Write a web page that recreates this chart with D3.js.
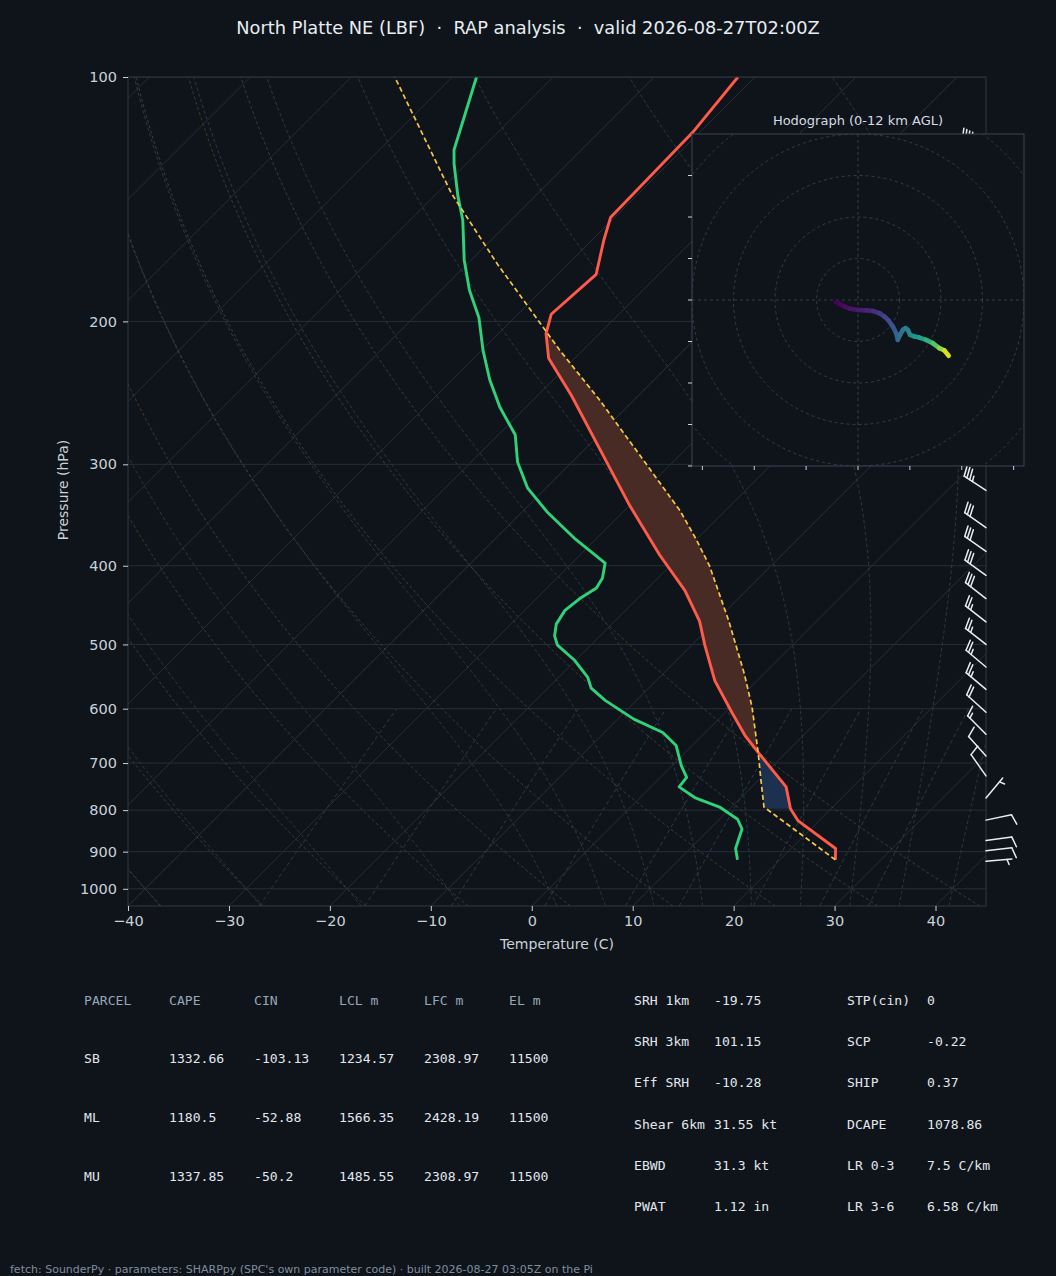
<!DOCTYPE html>
<html>
<head>
<meta charset="utf-8">
<script src="https://cdn.jsdelivr.net/npm/d3@7"></script>
<style>
  body { margin: 0; background: #0f141a; }
  svg { display: block; }
</style>
</head>
<body>
<svg id="chart" width="1056" height="1276"></svg>
<script>
// ---- sounding data ----
const tempP = [921, 892, 824, 797, 749, 679, 647, 607, 554, 501, 468, 429, 388, 337, 288, 247, 222, 207, 196, 175, 159, 149, 117, 100];
const tempT = [25.5, 24.4, 17.9, 16.0, 13.4, 7.2, 4.2, 0.7, -4.2, -8.7, -11.6, -16.1, -22.1, -30.0, -38.4, -46.6, -52.6, -55.3, -56.7, -56.2, -58.8, -60.4, -60.7, -61.7];

const dewP = [921, 892, 844, 821, 793, 772, 749, 729, 705, 666, 642, 618, 586, 566, 549, 523, 501, 488, 472, 454, 439, 426, 414, 397, 370, 344, 321, 298, 276, 255, 236, 217, 198, 183, 168, 150, 140, 128, 123, 100];
const dewT = [15.8, 14.5, 13.2, 11.8, 8.8, 5.4, 2.8, 2.6, 0.9, -1.6, -4.2, -8.4, -13.1, -15.7, -17.1, -20.1, -23.3, -24.5, -25.5, -26.0, -25.7, -25.1, -25.5, -26.7, -32.2, -37.4, -41.8, -45.4, -48.3, -52.6, -56.3, -59.9, -63.5, -67.2, -70.7, -74.8, -77.7, -81.2, -82.6, -87.6];

const parcelP = [921, 793, 736, 679, 597, 544, 468, 400, 370, 342, 297, 250, 217, 170, 139, 100];
const parcelT = [25.5, 13.2, 10.3, 7.2, 2.1, -1.9, -8.7, -16.1, -20.2, -24.5, -33.0, -43.4, -52.3, -67.0, -78.6, -95.7];

const lclP = 797, lfcP = 679, elP = 208;

// wind barbs: pressure (hPa), direction (deg), speed (kt)
const barbP   = [925, 898, 872, 823, 773, 726, 686, 645, 606, 568, 533, 500, 469, 439, 411, 384, 359, 323, 300, 275, 250, 225, 200, 175, 150, 123];
const barbDir = [85, 83, 82, 78, 40, 325, 318, 315, 312, 310, 310, 308, 308, 308, 306, 305, 305, 303, 303, 302, 300, 300, 298, 297, 296, 295];
const barbSpd = [5, 10, 10, 10, 5, 10, 10, 15, 20, 25, 25, 25, 25, 30, 30, 30, 30, 35, 35, 40, 40, 40, 45, 45, 45, 40];

// hodograph (kt) and height (km AGL)
const hodoU = [-10.7, -8.8, -6.4, -4.0, 0, 4.0, 7.2, 10.4, 12.8, 14.9, 16.8, 18.4, 19.2, 20.3, 21.6, 22.9, 24.0, 25.1, 27.2, 29.6, 32.8, 36.0, 39.2, 41.6, 43.7];
const hodoV = [-1.1, -1.9, -3.2, -4.2, -4.8, -5.0, -5.3, -6.4, -8.0, -10.1, -12.8, -16.0, -19.2, -16.8, -14.4, -13.6, -14.4, -16.8, -17.6, -18.1, -19.2, -20.8, -23.2, -24.3, -26.9];
const hodoZ = [0, 0.15, 0.3, 0.5, 0.8, 1.1, 1.4, 1.8, 2.2, 2.6, 3.0, 3.4, 3.9, 4.3, 4.6, 4.9, 5.2, 5.6, 6.0, 6.5, 7.2, 8.2, 9.4, 10.5, 12.0];

// axis ticks and reference lines
const pTicks = [100, 200, 300, 400, 500, 600, 700, 800, 900, 1000];
const tTicks = [-40, -30, -20, -10, 0, 10, 20, 30, 40];
const isotherms = d3.range(-130, 50, 10);
const dryT0 = [-40, -30, -20, -10, 0, 10, 20, 30, 40];
const moistT0 = [-40, -30, -20, -10, 0, 5, 10, 15, 20, 25, 30, 35, 40, 45];
const mixRatios = [0.0004, 0.001, 0.002, 0.004, 0.007, 0.01, 0.016, 0.024, 0.032];
const hodoRings = [20, 40, 60, 80, 100];
const hodoXTicks = [-75, -50, -25, 0, 25, 50, 75];
const hodoYTicks = [-80, -60, -40, -20, 0, 20, 40, 60];

const titleText = 'North Platte NE (LBF)  \u00b7  RAP analysis  \u00b7  valid 2026-08-27T02:00Z';
const footerText = "fetch: SounderPy \u00b7 parameters: SHARPpy (SPC's own parameter code) \u00b7 built 2026-08-27 03:05Z on the Pi";

const parcelCols = ['PARCEL', 'CAPE', 'CIN', 'LCL m', 'LFC m', 'EL m'];
const parcelRows = [
  ['SB', '1332.66', '-103.13', '1234.57', '2308.97', '11500'],
  ['ML', '1180.5', '-52.88', '1566.35', '2428.19', '11500'],
  ['MU', '1337.85', '-50.2', '1485.55', '2308.97', '11500'],
];
const paramsA = [['SRH 1km', '-19.75'], ['SRH 3km', '101.15'], ['Eff SRH', '-10.28'], ['Shear 6km', '31.55 kt'], ['EBWD', '31.3 kt'], ['PWAT', '1.12 in']];
const paramsB = [['STP(cin)', '0'], ['SCP', '-0.22'], ['SHIP', '0.37'], ['DCAPE', '1078.86'], ['LR 0-3', '7.5 C/km'], ['LR 3-6', '6.58 C/km']];

// ---- layout ----
const BG = '#0f141a';
const FONT = 'DejaVu Sans, sans-serif';
const MONO = 'DejaVu Sans Mono, monospace';
const plot = { left: 128, right: 986, top: 77, bottom: 906 };

const svg = d3.select('#chart');
svg.append('rect').attr('width', 1056).attr('height', 1276).attr('fill', BG);

const x = d3.scaleLinear().domain([-40, 45]).range([plot.left, plot.right]);
const y = d3.scaleLog().domain([1050, 100]).range([plot.bottom, plot.top]);
// skew: isotherms lean 45 degrees
const skewX = (t, p) => x(t) + (plot.bottom - y(p));

const line = d3.line().x((d) => skewX(d[1], d[0])).y((d) => y(d[0]));
const zip = (ps, ts) => ps.map((p, i) => [p, ts[i]]);

svg.append('defs').append('clipPath').attr('id', 'plotClip')
  .append('rect')
  .attr('x', plot.left).attr('y', plot.top)
  .attr('width', plot.right - plot.left).attr('height', plot.bottom - plot.top);

const g = svg.append('g').attr('clip-path', 'url(#plotClip)');

// thermodynamic helpers for the reference lines
const Rd = 287.04749, Cp = 1004.6662, Lv = 2.50084e6, eps = 0.622;
const satVap = (tk) => 6.112 * Math.exp(17.67 * (tk - 273.15) / (tk - 29.65));
function dTdp(p, tk) {
  const es = satVap(tk);
  const rs = eps * es / (p - es);
  return (1 / p) * (Rd * tk + Lv * rs) / (Cp + (Lv * Lv * rs * eps) / (Rd * tk * tk));
}
function rk4(p, tk, dp) {
  const k1 = dTdp(p, tk);
  const k2 = dTdp(p + dp / 2, tk + k1 * dp / 2);
  const k3 = dTdp(p + dp / 2, tk + k2 * dp / 2);
  const k4 = dTdp(p + dp, tk + k3 * dp);
  return tk + dp * (k1 + 2 * k2 + 2 * k3 + k4) / 6;
}
function moistLine(t0) {
  const up = [];
  let tk = t0 + 273.15, p = 1000;
  up.push([p, tk]);
  while (p > 100) { const dp = -Math.min(5, p - 100); tk = rk4(p, tk, dp); p += dp; up.push([p, tk]); }
  const down = [];
  tk = t0 + 273.15; p = 1000;
  while (p < 1050) { tk = rk4(p, tk, 5); p += 5; down.push([p, tk]); }
  return down.reverse().concat(up).map(([pp, t]) => [pp, t - 273.15]);
}
const logP = (a, b, n) => d3.range(n + 1).map((i) => a * Math.pow(b / a, i / n));

// isobars
g.selectAll('.isobar').data(pTicks).enter().append('line')
  .attr('x1', plot.left).attr('x2', plot.right)
  .attr('y1', (d) => y(d)).attr('y2', (d) => y(d))
  .attr('stroke', '#262e38').attr('stroke-width', 1);

// isotherms
g.selectAll('.isotherm').data(isotherms).enter().append('line')
  .attr('x1', (d) => skewX(d, 1050)).attr('y1', y(1050))
  .attr('x2', (d) => skewX(d, 100)).attr('y2', y(100))
  .attr('stroke', '#262e38').attr('stroke-width', 1);

// dry adiabats
const fullP = logP(1050, 100, 80);
g.selectAll('.dry').data(dryT0).enter().append('path')
  .attr('d', (t0) => line(fullP.map((p) => [p, (t0 + 273.15) * Math.pow(p / 1000, Rd / Cp) - 273.15])))
  .attr('fill', 'none').attr('stroke', '#4d3d2b').attr('stroke-width', 0.9)
  .attr('stroke-dasharray', '3,2.5');

// moist adiabats
g.selectAll('.moist').data(moistT0).enter().append('path')
  .attr('d', (t0) => line(moistLine(t0)))
  .attr('fill', 'none').attr('stroke', '#2a3d4a').attr('stroke-width', 0.9)
  .attr('stroke-dasharray', '3.5,2.5');

// mixing ratio lines
const mixP = logP(1050, 600, 30);
g.selectAll('.mix').data(mixRatios).enter().append('path')
  .attr('d', (w) => line(mixP.map((p) => {
    const e = p * w / (eps + w);
    const l = Math.log(e / 6.112);
    return [p, 243.5 * l / (17.67 - l)];
  })))
  .attr('fill', 'none').attr('stroke', '#27424a').attr('stroke-width', 0.9)
  .attr('stroke-dasharray', '4,3');

// CAPE / CIN shading between parcel and environment
function interpT(ps, ts, p) {
  for (let i = 0; i < ps.length - 1; i++) {
    if (p <= ps[i] && p >= ps[i + 1]) {
      const f = Math.log(p / ps[i]) / Math.log(ps[i + 1] / ps[i]);
      return ts[i] + f * (ts[i + 1] - ts[i]);
    }
  }
  return ts[ts.length - 1];
}
function shade(pBot, pTop, fill) {
  const levels = Array.from(new Set([pBot, pTop]
    .concat(tempP.filter((p) => p < pBot && p > pTop))
    .concat(parcelP.filter((p) => p < pBot && p > pTop))))
    .sort((a, b) => b - a);
  const envSide = levels.map((p) => [p, interpT(tempP, tempT, p)]);
  const parSide = levels.map((p) => [p, interpT(parcelP, parcelT, p)]).reverse();
  g.append('path')
    .attr('d', line(envSide.concat(parSide)) + 'Z')
    .attr('fill', fill).attr('stroke', 'none');
}
shade(lfcP, elP, '#482b25');
shade(lclP, lfcP, '#1c3050');

// profiles
g.append('path').attr('d', line(zip(dewP, dewT)))
  .attr('fill', 'none').attr('stroke', '#2fd27a').attr('stroke-width', 2.9)
  .attr('stroke-linejoin', 'round');
g.append('path').attr('d', line(zip(tempP, tempT)))
  .attr('fill', 'none').attr('stroke', '#ff5a4a').attr('stroke-width', 2.9)
  .attr('stroke-linejoin', 'round');
g.append('path').attr('d', line(zip(parcelP, parcelT)))
  .attr('fill', 'none').attr('stroke', '#f7c548').attr('stroke-width', 1.7)
  .attr('stroke-dasharray', '5,3');

// frame
svg.append('rect')
  .attr('x', plot.left).attr('y', plot.top)
  .attr('width', plot.right - plot.left).attr('height', plot.bottom - plot.top)
  .attr('fill', 'none').attr('stroke', '#2f3a47').attr('stroke-width', 1);

// axes
const yAxis = svg.append('g').attr('transform', `translate(${plot.left},0)`)
  .call(d3.axisLeft(y).tickValues(pTicks).tickFormat(d3.format('d')).tickSize(5).tickPadding(6));
const xAxis = svg.append('g').attr('transform', `translate(0,${plot.bottom})`)
  .call(d3.axisBottom(x).tickValues(tTicks)
    .tickFormat((d) => (d < 0 ? '\u2212' + Math.abs(d) : String(d))).tickSize(5).tickPadding(5));
[yAxis, xAxis].forEach((a) => {
  a.select('.domain').remove();
  a.selectAll('.tick line').attr('stroke', '#c9d1d9');
  a.selectAll('.tick text').attr('fill', '#c9d1d9')
    .style('font-family', FONT).style('font-size', '14.5px');
});

svg.append('text')
  .attr('transform', 'translate(68,490) rotate(-90)')
  .attr('text-anchor', 'middle').attr('fill', '#c9d1d9')
  .style('font-family', FONT).style('font-size', '14px')
  .text('Pressure (hPa)');
svg.append('text')
  .attr('x', 557).attr('y', 949)
  .attr('text-anchor', 'middle').attr('fill', '#c9d1d9')
  .style('font-family', FONT).style('font-size', '14px')
  .text('Temperature (C)');

// wind barbs at the right edge (matplotlib geometry)
function drawBarb(sel, x0, y0, dir, spd) {
  const L = 26, hgt = 0.4 * L, fw = 0.25 * L, sp = 0.125 * L;
  const r = dir * Math.PI / 180;
  const ax = Math.sin(r), ay = -Math.cos(r);
  const px = Math.cos(r), py = Math.sin(r);
  const pt = (s, h) => [x0 + ax * s + px * h, y0 + ay * s + py * h];
  let s5 = Math.round(spd / 5) * 5;
  const nFlag = Math.floor(s5 / 50); s5 -= nFlag * 50;
  const nFull = Math.floor(s5 / 10); s5 -= nFull * 10;
  const half = s5 >= 5;
  const segs = [[pt(0, 0), pt(L, 0)]];
  const polys = [];
  let off = L;
  for (let i = 0; i < nFlag; i++) {
    polys.push([pt(off, 0), pt(off - fw / 2, hgt), pt(off - fw, 0)]);
    off -= fw + sp;
  }
  for (let i = 0; i < nFull; i++) {
    segs.push([pt(off, 0), pt(off + fw / 2, hgt)]);
    off -= sp;
  }
  if (half) {
    if (off === L) off -= 1.5 * sp;
    segs.push([pt(off, 0), pt(off + fw / 4, hgt / 2)]);
  }
  segs.forEach((s) => sel.append('line')
    .attr('x1', s[0][0]).attr('y1', s[0][1]).attr('x2', s[1][0]).attr('y2', s[1][1])
    .attr('stroke', '#e6edf3').attr('stroke-width', 1.5).attr('stroke-linecap', 'round'));
  polys.forEach((pp) => sel.append('polygon')
    .attr('points', pp.map((q) => q.join(',')).join(' ')).attr('fill', '#e6edf3'));
}
const barbs = svg.append('g');
barbP.forEach((p, i) => drawBarb(barbs, plot.right, y(p), barbDir[i], barbSpd[i]));

// hodograph inset
const hodo = { left: 692, top: 134, size: 332 };
const hk = d3.scaleLinear().domain([-80, 80]).range([0, hodo.size]);
const hx = (u) => hodo.left + hk(u);
const hy = (v) => hodo.top + hodo.size - hk(v);

svg.select('defs').append('clipPath').attr('id', 'hodoClip')
  .append('rect').attr('x', hodo.left).attr('y', hodo.top)
  .attr('width', hodo.size).attr('height', hodo.size);

svg.append('rect')
  .attr('x', hodo.left).attr('y', hodo.top).attr('width', hodo.size).attr('height', hodo.size)
  .attr('fill', BG);

const hg = svg.append('g').attr('clip-path', 'url(#hodoClip)');
hg.selectAll('circle').data(hodoRings).enter().append('circle')
  .attr('cx', hx(0)).attr('cy', hy(0)).attr('r', (d) => hk(d) - hk(0))
  .attr('fill', 'none').attr('stroke', '#37414d').attr('stroke-width', 0.9)
  .attr('stroke-dasharray', '3,3');
hg.append('line').attr('x1', hodo.left).attr('x2', hodo.left + hodo.size)
  .attr('y1', hy(0)).attr('y2', hy(0))
  .attr('stroke', '#37414d').attr('stroke-width', 0.9).attr('stroke-dasharray', '3,3');
hg.append('line').attr('y1', hodo.top).attr('y2', hodo.top + hodo.size)
  .attr('x1', hx(0)).attr('x2', hx(0))
  .attr('stroke', '#37414d').attr('stroke-width', 0.9).attr('stroke-dasharray', '3,3');

for (let i = 0; i < hodoU.length - 1; i++) {
  hg.append('line')
    .attr('x1', hx(hodoU[i])).attr('y1', hy(hodoV[i]))
    .attr('x2', hx(hodoU[i + 1])).attr('y2', hy(hodoV[i + 1]))
    .attr('stroke', d3.interpolateViridis((hodoZ[i] + hodoZ[i + 1]) / 24))
    .attr('stroke-width', 4.6).attr('stroke-linecap', 'round');
}

svg.append('rect')
  .attr('x', hodo.left).attr('y', hodo.top).attr('width', hodo.size).attr('height', hodo.size)
  .attr('fill', 'none').attr('stroke', '#394555').attr('stroke-width', 1);

svg.selectAll('.hxt').data(hodoXTicks).enter().append('line')
  .attr('x1', (d) => hx(d)).attr('x2', (d) => hx(d))
  .attr('y1', hodo.top + hodo.size).attr('y2', hodo.top + hodo.size + 4)
  .attr('stroke', '#c9d1d9').attr('stroke-width', 1);
svg.selectAll('.hyt').data(hodoYTicks).enter().append('line')
  .attr('y1', (d) => hy(d)).attr('y2', (d) => hy(d))
  .attr('x1', hodo.left - 4).attr('x2', hodo.left)
  .attr('stroke', '#c9d1d9').attr('stroke-width', 1);

svg.append('text')
  .attr('x', hodo.left + hodo.size / 2).attr('y', 124.5)
  .attr('text-anchor', 'middle').attr('fill', '#d5dce4')
  .style('font-family', FONT).style('font-size', '13px')
  .text('Hodograph (0-12 km AGL)');

// title
svg.append('text')
  .attr('x', 528).attr('y', 33.5)
  .attr('text-anchor', 'middle').attr('fill', '#e6edf3')
  .style('font-family', FONT).style('font-size', '17.8px')
  .style('white-space', 'pre').attr('xml:space', 'preserve')
  .text(titleText);

// parcel table
const colX = [84, 169, 254, 339, 424, 509];
const rowY = [1004.5, 1062.5, 1121.5, 1180.5];
const tbl = svg.append('g').style('font-family', MONO).style('font-size', '13.1px');
parcelCols.forEach((c, j) => tbl.append('text')
  .attr('x', colX[j]).attr('y', rowY[0]).attr('fill', '#97a7ba').text(c));
parcelRows.forEach((row, i) => row.forEach((v, j) => tbl.append('text')
  .attr('x', colX[j]).attr('y', rowY[i + 1]).attr('fill', '#e1e7ee').text(v)));

// parameter table
const pRowY = [1004.5, 1045.8, 1087.2, 1128.5, 1169.8, 1211.2];
paramsA.forEach((r, i) => {
  tbl.append('text').attr('x', 634).attr('y', pRowY[i]).attr('fill', '#e1e7ee').text(r[0]);
  tbl.append('text').attr('x', 714).attr('y', pRowY[i]).attr('fill', '#e1e7ee').text(r[1]);
});
paramsB.forEach((r, i) => {
  tbl.append('text').attr('x', 847).attr('y', pRowY[i]).attr('fill', '#e1e7ee').text(r[0]);
  tbl.append('text').attr('x', 927).attr('y', pRowY[i]).attr('fill', '#e1e7ee').text(r[1]);
});

// footer
svg.append('text')
  .attr('x', 10).attr('y', 1273)
  .attr('fill', '#7f8da0')
  .style('font-family', FONT).style('font-size', '11px')
  .text(footerText);
</script>
</body>
</html>
